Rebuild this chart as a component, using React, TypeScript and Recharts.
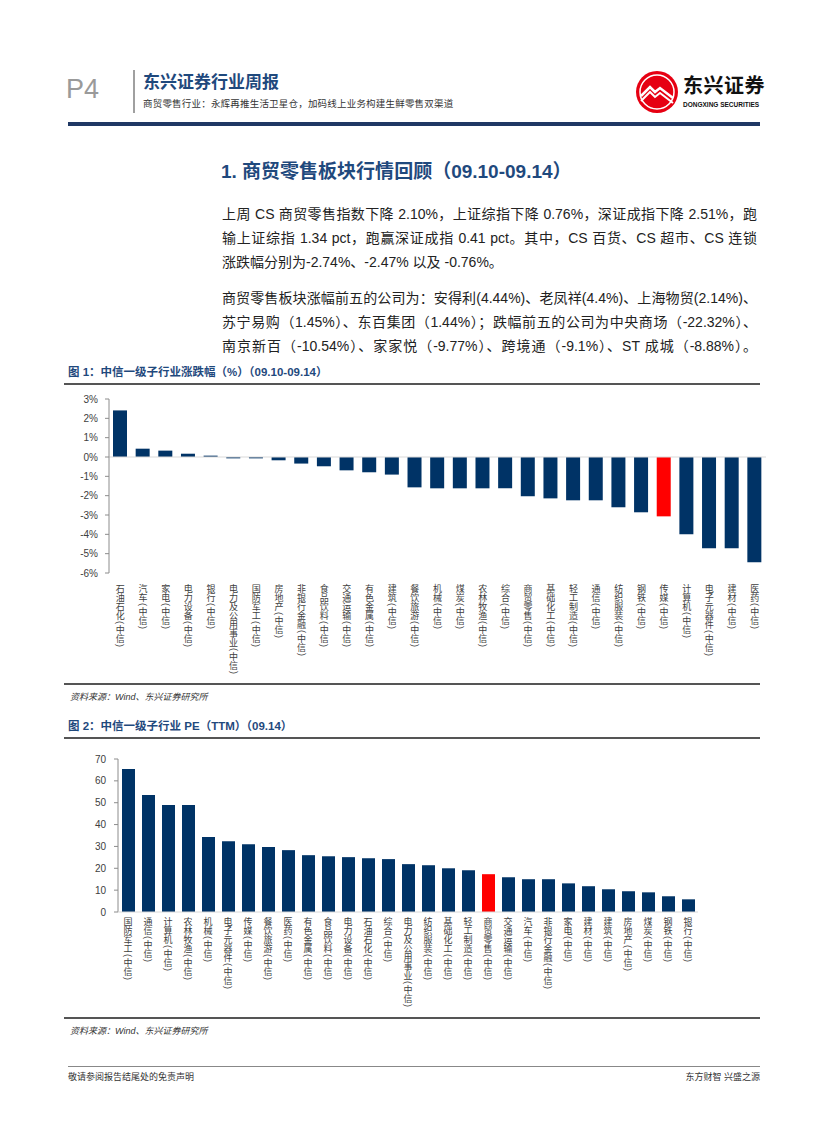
import React from 'react';
import { BarChart, Bar, XAxis, YAxis, Cell, ReferenceLine } from 'recharts';

// 图1 中信一级子行业涨跌幅 (%)
const changeCategories = [
  '石油石化(中信)', '汽车(中信)', '家电(中信)', '电力设备(中信)', '银行(中信)',
  '电力及公用事业(中信)', '国防军工(中信)', '房地产(中信)', '非银行金融(中信)', '食品饮料(中信)',
  '交通运输(中信)', '有色金属(中信)', '建筑(中信)', '餐饮旅游(中信)', '机械(中信)',
  '煤炭(中信)', '农林牧渔(中信)', '综合(中信)', '商贸零售(中信)', '基础化工(中信)',
  '轻工制造(中信)', '通信(中信)', '纺织服装(中信)', '钢铁(中信)', '传媒(中信)',
  '计算机(中信)', '电子元器件(中信)', '建材(中信)', '医药(中信)',
];
const changeValues = [
  2.41, 0.43, 0.33, 0.17, 0.07, -0.07, -0.07, -0.17, -0.34, -0.48,
  -0.69, -0.79, -0.91, -1.57, -1.62, -1.62, -1.62, -1.62, -2.03, -2.14,
  -2.24, -2.24, -2.6, -2.86, -3.07, -4.0, -4.72, -4.72, -5.45,
];
const changeTicks = [3, 2, 1, 0, -1, -2, -3, -4, -5, -6];
const changeHighlight = '传媒(中信)';

// 图2 中信一级子行业 PE(TTM)
const peCategories = [
  '国防军工(中信)', '通信(中信)', '计算机(中信)', '农林牧渔(中信)', '机械(中信)',
  '电子元器件(中信)', '传媒(中信)', '餐饮旅游(中信)', '医药(中信)', '有色金属(中信)',
  '食品饮料(中信)', '电力设备(中信)', '石油石化(中信)', '综合(中信)', '电力及公用事业(中信)',
  '纺织服装(中信)', '基础化工(中信)', '轻工制造(中信)', '商贸零售(中信)', '交通运输(中信)',
  '汽车(中信)', '非银行金融(中信)', '家电(中信)', '建材(中信)', '建筑(中信)',
  '房地产(中信)', '煤炭(中信)', '钢铁(中信)', '银行(中信)',
];
const peValues = [
  65.4, 53.5, 48.9, 48.9, 34.3, 32.4, 31.0, 29.7, 28.3, 26.0,
  25.5, 25.1, 24.6, 24.2, 21.9, 21.4, 20.0, 19.1, 17.3, 15.9,
  15.0, 15.0, 13.1, 11.8, 10.4, 9.5, 9.0, 7.2, 5.8,
];
const peTicks = [0, 10, 20, 30, 40, 50, 60, 70];
const peHighlight = '商贸零售(中信)';

const NAVY = '#003366';
const RED = '#ff0000';
const TITLE_BLUE = '#1f497d';
const CJK = '"Liberation Sans", "Noto Sans CJK SC", sans-serif';

const changeData = changeCategories.map((name, i) => ({ name, value: changeValues[i] }));
const peData = peCategories.map((name, i) => ({ name, value: peValues[i] }));

// vertical stacked category label, one glyph per row
const VerticalTick = ({ x, payload, top }: any) => {
  const chars = String(payload.value).split('');
  let cy = top;
  const nodes: React.ReactNode[] = [];
  chars.forEach((ch, i) => {
    const isParen = ch === '(' || ch === ')';
    const adv = isParen ? 5 : 9;
    if (isParen) {
      const my = cy + adv / 2;
      nodes.push(
        <text key={i} x={x} y={my} textAnchor="middle" dominantBaseline="central"
          transform={`rotate(90, ${x}, ${my})`} fontSize={9} fill="#404040" fontFamily={CJK}>
          {ch}
        </text>
      );
    } else {
      nodes.push(
        <text key={i} x={x} y={cy + 8} textAnchor="middle" fontSize={9} fill="#404040" fontFamily={CJK}>
          {ch}
        </text>
      );
    }
    cy += adv;
  });
  return <g>{nodes}</g>;
};

const pct = (v: number) => `${v}%`;

function ChangeChart() {
  return (
    <BarChart width={800} height={300} data={changeData}
      margin={{ top: 19, right: 34, bottom: 0, left: 0 }}>
      <YAxis domain={[-6, 3]} ticks={changeTicks} tickFormatter={pct} width={109}
        interval={0} stroke="#8c8c8c" tickSize={4} tickMargin={7}
        tick={{ fontSize: 10, fill: '#404040', fontFamily: CJK }} />
      <XAxis dataKey="name" height={107} axisLine={false} tickLine={false} interval={0}
        tick={<VerticalTick top={204} />} />
      <ReferenceLine y={0} stroke="#d9d9d9" />
      <Bar dataKey="value" barSize={14} isAnimationActive={false}>
        {changeData.map((d) => (
          <Cell key={d.name} fill={d.name === changeHighlight ? RED : NAVY} />
        ))}
      </Bar>
    </BarChart>
  );
}

function PeChart() {
  return (
    <BarChart width={800} height={275} data={peData}
      margin={{ top: 19, right: 102, bottom: 0, left: 0 }}>
      <YAxis domain={[0, 70]} ticks={peTicks} width={118} interval={0}
        stroke="#8c8c8c" tickSize={4} tickMargin={8}
        tick={{ fontSize: 10, fill: '#404040', fontFamily: CJK }} />
      <XAxis dataKey="name" height={103} stroke="#d9d9d9" tickLine={false} interval={0}
        tick={<VerticalTick top={177} />} />
      <Bar dataKey="value" barSize={13} isAnimationActive={false}>
        {peData.map((d) => (
          <Cell key={d.name} fill={d.name === peHighlight ? RED : NAVY} />
        ))}
      </Bar>
    </BarChart>
  );
}

const abs = (left: number, top: number, extra: React.CSSProperties = {}): React.CSSProperties => ({
  position: 'absolute', left, top, ...extra,
});

const bodyLine: React.CSSProperties = {
  width: 535, fontSize: 14, color: '#222', fontFamily: CJK, whiteSpace: 'nowrap',
  textAlign: 'justify', textAlignLast: 'justify', lineHeight: '18px',
};

const para1 = [
  '上周 CS 商贸零售指数下降 2.10%，上证综指下降 0.76%，深证成指下降 2.51%，跑',
  '输上证综指 1.34 pct，跑赢深证成指 0.41 pct。其中，CS 百货、CS 超市、CS 连锁',
  '涨跌幅分别为-2.74%、-2.47% 以及 -0.76%。',
];
const para2 = [
  '商贸零售板块涨幅前五的公司为：安得利(4.44%)、老凤祥(4.4%)、上海物贸(2.14%)、',
  '苏宁易购（1.45%）、东百集团（1.44%）；跌幅前五的公司为中央商场（-22.32%）、',
  '南京新百（-10.54%）、家家悦（-9.77%）、跨境通（-9.1%）、ST 成城（-8.88%）。',
];

export default function App() {
  return (
    <div style={{ position: 'absolute', left: 0, top: 0, width: 827, height: 1122, background: '#fff', overflow: 'hidden' }}>
      {/* header */}
      <div style={abs(66, 74, { fontSize: 27, color: '#9a9a9a', fontFamily: '"Liberation Sans", sans-serif', lineHeight: '30px' })}>P4</div>
      <div style={abs(133, 70, { width: 2, height: 43, background: '#a0a0a0' })} />
      <div style={abs(143, 72, { fontSize: 17, fontWeight: 700, color: TITLE_BLUE, fontFamily: CJK, lineHeight: '22px' })}>东兴证券行业周报</div>
      <div style={abs(143, 98, { fontSize: 9.5, color: '#333', fontFamily: CJK, lineHeight: '12px', letterSpacing: 0.2, whiteSpace: 'nowrap' })}>
        商贸零售行业：永辉再推生活卫星仓，加码线上业务构建生鲜零售双渠道
      </div>
      <svg style={abs(633, 68)} width={50} height={48}>
        <circle cx={24} cy={24} r={21} fill="#e60012" />
        <circle cx={24} cy={24} r={17} fill="none" stroke="#fff" strokeWidth={1.5} />
        <path d="M8 28 L17 19 L22 24 L27 20 L40 30" fill="none" stroke="#fff" strokeWidth={2.5} />
        <path d="M8 33 L17 24 L22 29 L27 25 L40 35" fill="none" stroke="#fff" strokeWidth={2} />
      </svg>
      <div style={abs(683, 74, { fontSize: 20, fontWeight: 700, color: '#111', fontFamily: CJK, lineHeight: '24px', letterSpacing: 0.5 })}>东兴证券</div>
      <div style={abs(683, 101, { fontSize: 6.5, fontWeight: 700, color: '#111', fontFamily: '"Liberation Sans", sans-serif', lineHeight: '8px' })}>DONGXING SECURITIES</div>
      <div style={abs(68, 122, { width: 692, height: 4, background: '#1f3864' })} />

      {/* section */}
      <div style={abs(221, 160, { fontSize: 19, fontWeight: 700, color: TITLE_BLUE, fontFamily: CJK, lineHeight: '24px', whiteSpace: 'nowrap' })}>
        1. 商贸零售板块行情回顾（09.10-09.14）
      </div>
      {para1.map((t, i) => (
        <div key={'a' + i} style={{ ...abs(222, 205 + i * 24), ...bodyLine, textAlignLast: i < para1.length - 1 ? 'justify' : 'left' }}>{t}</div>
      ))}
      {para2.map((t, i) => (
        <div key={'b' + i} style={{ ...abs(222, 289 + i * 24), ...bodyLine }}>{t}</div>
      ))}

      {/* figure 1 */}
      <div style={abs(68, 364, { fontSize: 11.5, fontWeight: 700, color: TITLE_BLUE, fontFamily: CJK, lineHeight: '16px', whiteSpace: 'nowrap' })}>
        图 1：中信一级子行业涨跌幅（%）（09.10-09.14）
      </div>
      <div style={abs(64, 383, { width: 696, height: 2, background: '#555' })} />
      <div style={abs(0, 380)}>
        <ChangeChart />
      </div>
      <div style={abs(64, 683, { width: 696, height: 2, background: '#555' })} />
      <div style={abs(70, 691, { fontSize: 9, fontStyle: 'italic', color: '#333', fontFamily: CJK, lineHeight: '12px' })}>资料来源：Wind、东兴证券研究所</div>

      {/* figure 2 */}
      <div style={abs(68, 718, { fontSize: 11.5, fontWeight: 700, color: TITLE_BLUE, fontFamily: CJK, lineHeight: '16px', whiteSpace: 'nowrap' })}>
        图 2：中信一级子行业 PE（TTM）（09.14）
      </div>
      <div style={abs(64, 737, { width: 696, height: 2, background: '#555' })} />
      <div style={abs(0, 740)}>
        <PeChart />
      </div>
      <div style={abs(64, 1017, { width: 696, height: 2, background: '#555' })} />
      <div style={abs(70, 1025, { fontSize: 9, fontStyle: 'italic', color: '#333', fontFamily: CJK, lineHeight: '12px' })}>资料来源：Wind、东兴证券研究所</div>

      {/* footer */}
      <div style={abs(68, 1066, { width: 692, height: 1, background: '#888' })} />
      <div style={abs(68, 1071, { fontSize: 9, color: '#333', fontFamily: CJK, lineHeight: '12px' })}>敬请参阅报告结尾处的免责声明</div>
      <div style={abs(660, 1071, { width: 100, textAlign: 'right', fontSize: 9, color: '#333', fontFamily: CJK, lineHeight: '12px' })}>东方财智 兴盛之源</div>
    </div>
  );
}
